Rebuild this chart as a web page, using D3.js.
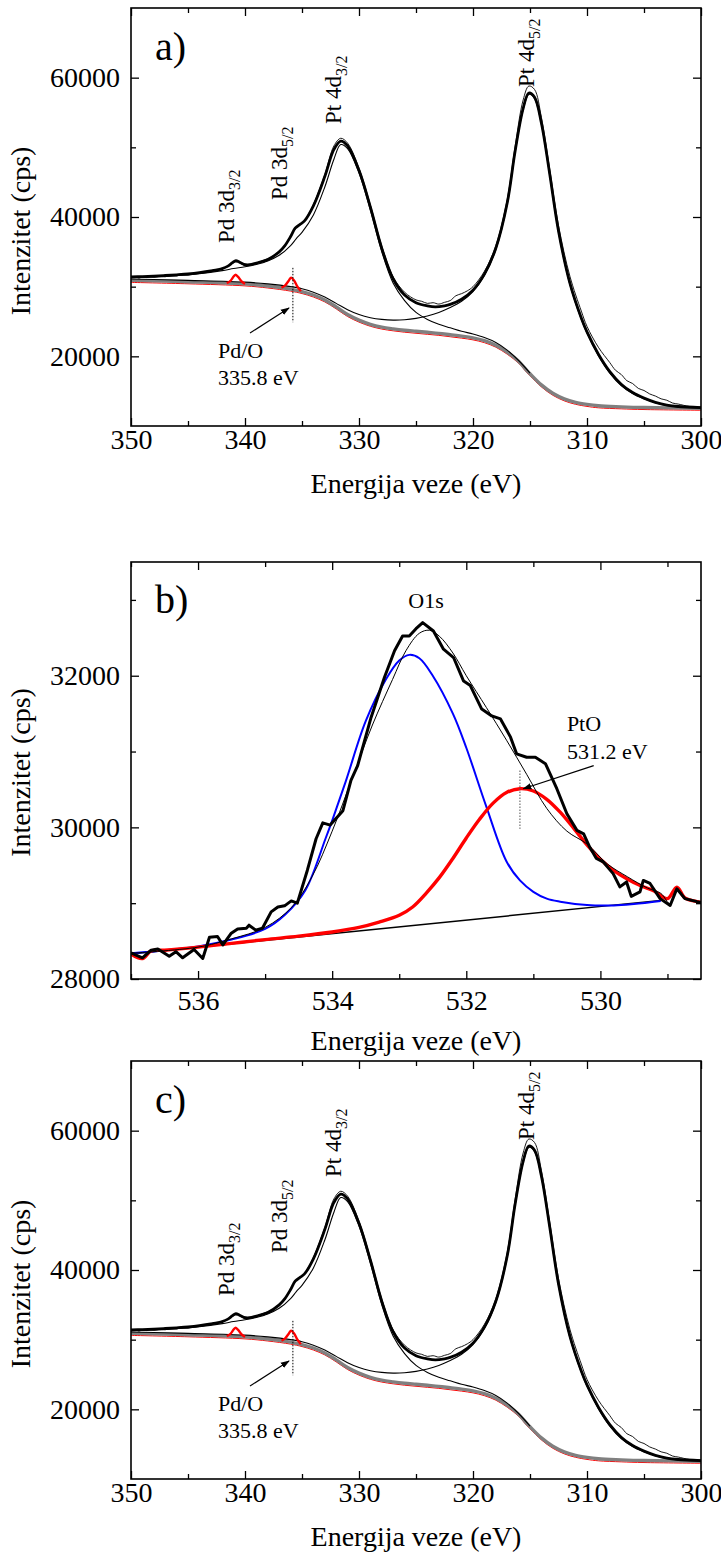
<!DOCTYPE html>
<html><head><meta charset="utf-8">
<script src="https://cdn.jsdelivr.net/npm/d3@7"></script>
<style>
body{margin:0;background:#fff}
svg{display:block}
</style>
</head><body>
<svg id="chart" width="721" height="1561"></svg>
<script>
// ===== DATA =====
// Panels a) and c): Pt 4d / Pd 3d region (binding energy eV, intensity cps)
const ptXTicks = [350, 340, 330, 320, 310, 300];
const ptXMinor = [345, 335, 325, 315, 305];
const ptYTicks = [20000, 40000, 60000];
const ptYMinor = [30000, 50000];

// measured spectrum (thin, noisy)
const ptData = [[350,31250],[349.6,31380],[349.3,31220],[349,31400],[348.6,31300],[348.3,31450],[348,31350],[347.5,31480],[347,31420],[346.5,31600],[346,31560],[345.5,31700],[345,31680],[344.5,31850],[344,31900],[343.5,32050],[343,32150],[342.5,32400],[342,32550],[341.5,32900],[341.1,33350],[340.8,33550],[340.5,33400],[340.1,33100],[339.6,33150],[339,33400],[338.5,33700],[338,34000],[337.5,34400],[337,34900],[336.5,35800],[336,37100],[335.6,38300],[335.2,38850],[334.8,39450],[334,41800],[333,46100],[332.2,50200],[331.6,51300],[331,50600],[330,47000],[329,41700],[328,35800],[327,31400],[326,29200],[325,28100],[324.5,27900],[324,27600],[323.5,27700],[323,27500],[322.5,27750],[322,28000],[321.5,28700],[321,29000],[320.5,29400],[320,30000],[319,32200],[318,35900],[317,42500],[316.3,50200],[315.6,56800],[315.1,58800],[314.6,58300],[314,54300],[313.3,47200],[312.5,38800],[311.5,31500],[310.5,26500],[310,24300],[309,21300],[308,19100],[307.5,18000],[307,17400],[306.5,16500],[306,16100],[305.5,15400],[305,15100],[304.5,14600],[304,14300],[303.5,13900],[303,13700],[302.5,13300],[302,13150],[301,12800],[300,12700]];

// total fit envelope (thick)
const ptEnvelope = [[350,31400],[349,31450],[348,31520],[347,31600],[346,31700],[345,31820],[344,32000],[343,32250],[342,32600],[341.5,32950],[341.1,33450],[340.8,33750],[340.5,33550],[340.1,33200],[339.6,33150],[339,33400],[338,33900],[337,35000],[336.5,35900],[336,37200],[335.6,38400],[335.2,38900],[334.8,39400],[334,41600],[333,45800],[332.2,49700],[331.6,50900],[331,50200],[330,46700],[329,41400],[328,35500],[327,31100],[326,28800],[325,27700],[324,27250],[323.3,27100],[322.5,27250],[322,27450],[321,28200],[320,29500],[319,31800],[318,35500],[317,42000],[316.3,49500],[315.6,55600],[315.1,57800],[314.6,57200],[314,53500],[313.3,46500],[312.5,38000],[311.5,30500],[310.5,25500],[310,23500],[309,20300],[308,17800],[307,16000],[306,14800],[305,14000],[304,13400],[303,13000],[302,12800],[300,12650]];

// background + Pt 4d3/2 component (thin)
const ptComp32 = [[350,31300],[348,31400],[346,31580],[344,31850],[342,32300],[341,32600],[340,32850],[339,33200],[338,33700],[337,34500],[336,35900],[335.5,36900],[335,37800],[334,40300],[333,44300],[332.2,48300],[331.6,50400],[331,49800],[330,46300],[329,41000],[328,35000],[327,30500],[326,28000],[325,26300],[324,25300],[323,24600],[322,24100],[321,23600],[320,23200],[319,22700],[318,22000],[317,20900],[316,19400],[315,17600]];

// background + Pt 4d5/2 component (thin)
const ptComp52 = [[350,31100],[345,30900],[340,30650],[338,30400],[336,30000],[335,29700],[334,29200],[333,28500],[332,27600],[331,26700],[330,26000],[329,25550],[328,25300],[327,25200],[326,25250],[325,25450],[324,25800],[323,26300],[322,27000],[321,27900],[320,29300],[319,31600],[318,35300],[317,41800],[316.3,49300],[315.6,55400],[315.1,57600],[314.6,57000],[314,53300],[313.3,46300],[312.5,37800],[311.5,30300],[310.5,25300],[310,23300],[309,20100],[308,17600],[307,15800],[306,14650],[305,13900],[304,13350],[303,12950],[302,12750],[300,12600]];

// Shirley background (grey)
const ptBackground = [[350,30900],[345,30700],[340,30400],[338,30100],[336,29650],[335,29300],[334,28800],[333,28100],[332,27100],[331,26000],[330,25200],[329,24600],[328,24200],[327,23950],[326,23750],[325,23600],[324,23450],[323,23300],[322,23100],[321,22900],[320,22650],[319,22250],[318,21600],[317,20600],[316,19300],[315.3,18000],[315,17500],[314,15900],[313,14700],[312,13900],[311,13400],[310,13100],[309,12900],[307,12750],[305,12650],[300,12550]];

// Pd 3d peaks on background (red)
const pd32Peak = [[341.6,30500],[341.3,30800],[341.0,31450],[340.85,31700],[340.6,31400],[340.3,30750],[340.0,30400]];
const pd52Peak = [[336.8,29850],[336.5,30150],[336.15,30900],[335.95,31300],[335.7,30900],[335.4,30000],[335.1,29350]];

// Panel b): O1s region
const oXTicks = [536, 534, 532, 530];
const oXMinor = [537, 535, 533, 531, 529];
const oYTicks = [28000, 30000, 32000];
const oYMinor = [29000, 31000, 33000];

const oData = [[537.0,28346],[536.83,28280],[536.70,28380],[536.60,28395],[536.43,28300],[536.33,28360],[536.23,28280],[536.06,28390],[535.93,28270],[535.83,28550],[535.71,28560],[535.63,28450],[535.51,28600],[535.41,28660],[535.28,28670],[535.24,28710],[535.14,28645],[535.04,28670],[534.91,28885],[534.81,28950],[534.71,28965],[534.61,29030],[534.52,29000],[534.37,29435],[534.24,29850],[534.14,30060],[534.03,30030],[533.84,30220],[533.72,30620],[533.62,30815],[533.42,31450],[533.22,31980],[533.07,32330],[532.95,32525],[532.85,32525],[532.75,32620],[532.65,32700],[532.49,32590],[532.34,32350],[532.19,32240],[532.04,31930],[531.94,31870],[531.77,31560],[531.62,31470],[531.49,31430],[531.34,31190],[531.25,30970],[531.10,30925],[530.97,30925],[530.82,30840],[530.65,30510],[530.50,30180],[530.35,29960],[530.25,29915],[530.16,29740],[530.06,29590],[529.96,29545],[529.81,29390],[529.71,29215],[529.61,29280],[529.54,29090],[529.41,29150],[529.36,29300],[529.26,29260],[529.11,29060],[528.96,28970],[528.86,29190],[528.74,29060],[528.56,29020],[528.5,29010]];

const oFit = [[537,28340],[536,28420],[535.5,28530],[535,28680],[534.6,28950],[534.3,29350],[534,29950],[533.7,30650],[533.4,31350],[533.1,31950],[532.9,32330],[532.7,32560],[532.55,32600],[532.4,32520],[532.2,32300],[532,32000],[531.7,31580],[531.4,31150],[531.1,30700],[530.8,30250],[530.5,29950],[530.2,29780],[529.9,29520],[529.6,29350],[529.3,29200],[529.1,29130],[528.96,28990],[528.86,29190],[528.74,29060],[528.56,29020],[528.5,29010]];

const oPeakMain = [[537,28340],[536,28430],[535.5,28520],[535,28660],[534.7,28850],[534.4,29170],[534.1,29850],[534,30090],[533.8,30600],[533.5,31400],[533.2,31950],[533,32200],[532.85,32275],[532.7,32230],[532.5,32000],[532.2,31500],[532,31050],[531.7,30270],[531.4,29550],[531.2,29300],[531,29150],[530.8,29060],[530.6,29020],[530.2,28975],[529.8,28970],[529.5,28990],[529.1,29030]];

const oPeakPtO = [[537,28330],[536.83,28270],[536.7,28370],[536.5,28380],[536,28420],[535.5,28470],[535,28520],[534.5,28565],[534,28620],[533.6,28680],[533.3,28750],[533,28840],[532.8,28950],[532.6,29130],[532.4,29340],[532.2,29590],[532.0,29860],[531.8,30110],[531.6,30320],[531.4,30460],[531.2,30510],[531.0,30480],[530.8,30370],[530.6,30200],[530.4,29990],[530.2,29770],[530.0,29580],[529.8,29430],[529.6,29320],[529.4,29230],[529.2,29160],[529.0,29060],[528.86,29210],[528.74,29070],[528.56,29020],[528.5,29010]];

const oBaseline = [[537,28330],[529.1,29037]];

// ===== LAYOUT =====
const svg = d3.select('#chart');
const L = 131, R = 701;
const SERIF = 'Liberation Serif';

function txt(sel, size){
  return sel.attr('font-family', SERIF).style('font-family', SERIF).attr('font-size', size).attr('fill','#000');
}

function frameAndAxes(P, x, y, xT, xM, yT, yM, xPad){
  const mk = (axis, tr) => {
    const g = svg.append('g').attr('transform', tr).call(axis)
      .attr('font-family', SERIF).attr('font-size', 28);
    g.select('.domain').remove();
    g.selectAll('line').attr('stroke','#000').attr('stroke-width',1.3);
    txt(g.selectAll('text'), 28);
    return g;
  };
  const fmt = d3.format('d');
  mk(d3.axisBottom(x).tickValues(xT).tickSizeInner(-8).tickSizeOuter(0).tickPadding(xPad).tickFormat(fmt), `translate(0,${P.bottom})`);
  mk(d3.axisBottom(x).tickValues(xM).tickSizeInner(-5).tickSizeOuter(0).tickFormat(''), `translate(0,${P.bottom})`);
  mk(d3.axisTop(x).tickValues(xT).tickSizeInner(-8).tickSizeOuter(0).tickFormat(''), `translate(0,${P.top})`);
  mk(d3.axisTop(x).tickValues(xM).tickSizeInner(-5).tickSizeOuter(0).tickFormat(''), `translate(0,${P.top})`);
  mk(d3.axisLeft(y).tickValues(yT).tickSizeInner(-8).tickSizeOuter(0).tickPadding(11).tickFormat(fmt), `translate(${L},0)`);
  mk(d3.axisLeft(y).tickValues(yM).tickSizeInner(-5).tickSizeOuter(0).tickFormat(''), `translate(${L},0)`);
  mk(d3.axisRight(y).tickValues(yT).tickSizeInner(-8).tickSizeOuter(0).tickFormat(''), `translate(${R},0)`);
  mk(d3.axisRight(y).tickValues(yM).tickSizeInner(-5).tickSizeOuter(0).tickFormat(''), `translate(${R},0)`);
  svg.append('rect').attr('x',L).attr('y',P.top).attr('width',R-L).attr('height',P.bottom-P.top)
    .attr('fill','none').attr('stroke','#000').attr('stroke-width',1.6);
  txt(svg.append('text').attr('x',(L+R)/2).attr('y',P.titleY).attr('text-anchor','middle'), 28)
    .text('Energija veze (eV)');
  txt(svg.append('text').attr('transform',`translate(30,${(P.top+P.bottom)/2+P.yLabShift}) rotate(-90)`)
    .attr('text-anchor','middle'), 28).text('Intenzitet (cps)');
  txt(svg.append('text').attr('x',155).attr('y',P.labelY), 40).text(P.name);
}

function clip(P){
  const id = 'clip_' + P.id;
  svg.append('clipPath').attr('id',id).append('rect')
    .attr('x',L).attr('y',P.top).attr('width',R-L).attr('height',P.bottom-P.top);
  return svg.append('g').attr('clip-path',`url(#${id})`);
}

svg.append('defs').append('marker').attr('id','arr').attr('viewBox','0 0 10 10')
  .attr('refX',9).attr('refY',5).attr('markerWidth',9).attr('markerHeight',9)
  .attr('markerUnits','userSpaceOnUse').attr('orient','auto')
  .append('path').attr('d','M0,1.5 L10,5 L0,8.5 Z').attr('fill','#000');

function rotLabel(g, x, y, main, sub){
  const t = txt(g.append('text').attr('transform',`translate(${x},${y}) rotate(-90)`), 23);
  t.append('tspan').text(main);
  t.append('tspan').attr('font-size',16).attr('dy',6).text(sub);
}

function drawPt(P){
  const x = d3.scaleLinear().domain([350,300]).range([L,R]);
  const y = d3.scaleLinear().domain([10000,70000]).range([P.bottom,P.top]);
  const line = d3.line().x(d=>x(d[0])).y(d=>y(d[1])).curve(d3.curveCatmullRom.alpha(0.5));
  const plot = clip(P);
  const path = (data, color, w, tr) => plot.append('path').datum(data).attr('d',line)
    .attr('fill','none').attr('stroke',color).attr('stroke-width',w)
    .attr('stroke-linejoin','round').attr('transform',tr||null);
  path(ptBackground,'#ff0000',1,'translate(0,2)');
  path(ptBackground,'#808080',3.4);
  path(ptComp52,'#000',1.1);
  path(ptComp32,'#000',1.1);
  path(ptData,'#000',0.9);
  path(ptEnvelope,'#000',2.8);
  path(pd32Peak,'#ff0000',2.4);
  path(pd52Peak,'#ff0000',2.4);

  frameAndAxes(P, x, y, ptXTicks, ptXMinor, ptYTicks, ptYMinor, 3);

  const g = svg.append('g');
  g.append('line').attr('x1',x(335.8)).attr('x2',x(335.8)).attr('y1',y(32700)).attr('y2',y(24900))
    .attr('stroke','#000').attr('stroke-width',1).attr('stroke-dasharray','1.5,1.5');
  g.append('line').attr('x1',x(339.56)).attr('y1',y(23350)).attr('x2',x(336.14)).attr('y2',y(26940))
    .attr('stroke','#000').attr('stroke-width',1.2).attr('marker-end','url(#arr)');
  txt(g.append('text').attr('x',x(342.37)).attr('y',y(19760)), 22).text('Pd/O');
  txt(g.append('text').attr('x',x(342.37)).attr('y',y(15885)), 22).text('335.8 eV');
  rotLabel(g, x(340.96), y(36268), 'Pd 3d', '3/2');
  rotLabel(g, x(336.32), y(42440), 'Pd 3d', '5/2');
  rotLabel(g, x(331.58), y(53350), 'Pt 4d', '3/2');
  rotLabel(g, x(314.65), y(58660), 'Pt 4d', '5/2');
}

function drawO(P){
  const x = d3.scaleLinear().domain([537,528.5]).range([L,R]);
  const y = d3.scaleLinear().domain([28000,33500]).range([P.bottom,P.top]);
  const lineS = d3.line().x(d=>x(d[0])).y(d=>y(d[1])).curve(d3.curveCatmullRom.alpha(0.5));
  const lineL = d3.line().x(d=>x(d[0])).y(d=>y(d[1]));
  const plot = clip(P);
  const path = (data, gen, color, w) => plot.append('path').datum(data).attr('d',gen)
    .attr('fill','none').attr('stroke',color).attr('stroke-width',w).attr('stroke-linejoin','round');
  path(oBaseline, lineL, '#000', 1.5);
  path(oPeakMain, lineS, '#0000ff', 2);
  path(oPeakPtO, lineS, '#ff0000', 3.4);
  path(oData, lineL, '#000', 3);
  path(oFit, lineS, '#000', 1);

  frameAndAxes(P, x, y, oXTicks, oXMinor, oYTicks, oYMinor, 11);

  const g = svg.append('g');
  g.append('line').attr('x1',x(531.2)).attr('x2',x(531.2)).attr('y1',y(30750)).attr('y2',y(29980))
    .attr('stroke','#555').attr('stroke-width',1).attr('stroke-dasharray','1.5,1.5');
  g.append('line').attr('x1',x(530.1)).attr('y1',y(30815)).attr('x2',x(531.15)).attr('y2',y(30510))
    .attr('stroke','#000').attr('stroke-width',1.2).attr('marker-end','url(#arr)');
  txt(g.append('text').attr('x',x(532.6)).attr('y',y(32895)).attr('text-anchor','middle'), 22).text('O1s');
  txt(g.append('text').attr('x',x(530.5)).attr('y',y(31276)), 22).text('PtO');
  txt(g.append('text').attr('x',x(530.5)).attr('y',y(30908)), 22).text('531.2 eV');
}

drawPt({id:'a', name:'a)', top:8, bottom:426, titleY:493, yLabShift:14, labelY:60});
drawO({id:'b', name:'b)', top:562, bottom:979, titleY:1050, yLabShift:2, labelY:613});
drawPt({id:'c', name:'c)', top:1061, bottom:1479, titleY:1546, yLabShift:14, labelY:1113});
</script>
</body></html>
